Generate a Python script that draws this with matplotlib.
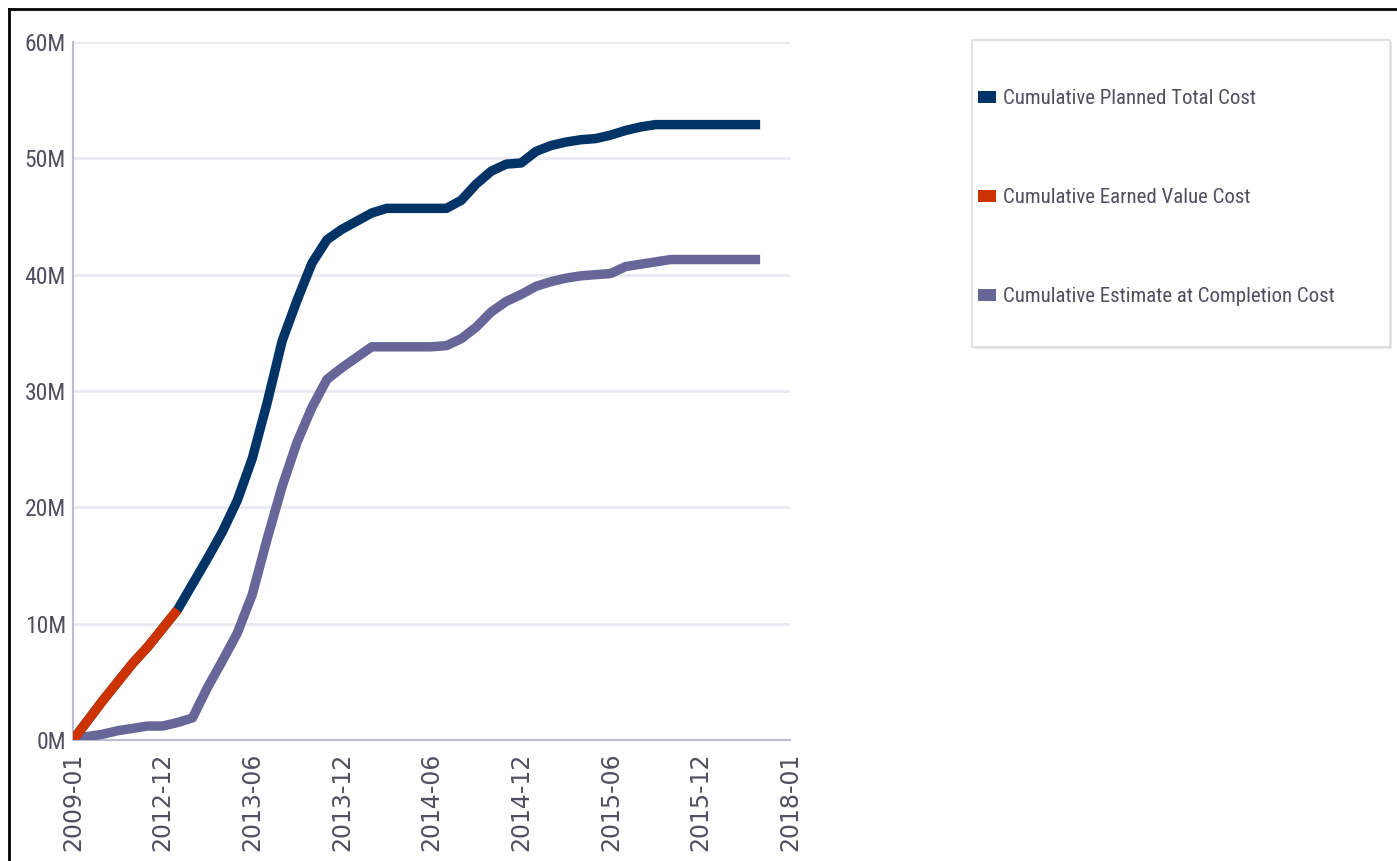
import matplotlib
matplotlib.use("Agg")
import matplotlib.pyplot as plt
from matplotlib import font_manager
from matplotlib.lines import Line2D
from matplotlib.patches import Patch, Rectangle

# month index along the category axis, values in millions
planned_total = [
    0.0, 1.7, 3.4, 5.0, 6.6, 8.0, 9.6, 11.2, 13.4, 15.6,
    17.9, 20.6, 24.2, 29.0, 34.3, 37.8, 41.0, 43.0, 43.9, 44.6,
    45.3, 45.7, 45.7, 45.7, 45.7, 45.7, 46.4, 47.8, 48.9, 49.5,
    49.6, 50.6, 51.1, 51.4, 51.6, 51.7, 52.0, 52.4, 52.7, 52.9,
    52.9, 52.9, 52.9, 52.9, 52.9, 52.9, 52.9,
]
earned_value = [0.0, 1.7, 3.4, 5.0, 6.6, 8.0, 9.6, 11.2]
estimate_at_completion = [
    0.2, 0.3, 0.5, 0.8, 1.0, 1.2, 1.2, 1.5, 1.9, 4.5,
    6.8, 9.2, 12.5, 17.3, 21.8, 25.6, 28.6, 31.0, 32.0, 32.9,
    33.8, 33.8, 33.8, 33.8, 33.8, 33.9, 34.5, 35.5, 36.8, 37.7,
    38.3, 39.0, 39.4, 39.7, 39.9, 40.0, 40.1, 40.7, 40.9, 41.1,
    41.3, 41.3, 41.3, 41.3, 41.3, 41.3, 41.3,
]

x_tick_pos = [0, 6, 12, 18, 24, 30, 36, 42, 48]
x_tick_labels = ["2009-01", "2012-12", "2013-06", "2013-12", "2014-06",
                 "2014-12", "2015-06", "2015-12", "2018-01"]
y_ticks = [0, 10, 20, 30, 40, 50, 60]
y_tick_labels = ["0M", "10M", "20M", "30M", "40M", "50M", "60M"]

series_names = ["Cumulative Planned Total Cost",
                "Cumulative Earned Value Cost",
                "Cumulative Estimate at Completion Cost"]
series_colors = ["#003366", "#cc3300", "#666699"]

LABEL_GRAY = "#4f4f5f"

# the original uses a condensed face; take the narrowest one available
available = {f.name for f in font_manager.fontManager.ttflist}
if "Roboto Condensed" in available:
    NARROW, NARROW_SIZE = ["Roboto Condensed", "DejaVu Sans"], 15
elif "Liberation Sans Narrow" in available:
    NARROW, NARROW_SIZE = ["Liberation Sans Narrow", "DejaVu Sans"], 15
else:
    NARROW, NARROW_SIZE = ["Liberation Sans", "DejaVu Sans"], 13


def main():
    fig = plt.figure(figsize=(13.97, 8.61), dpi=100)
    ax = fig.add_axes([73 / 1397, 1 - 740 / 861, (790 - 73) / 1397, (740 - 42) / 861])

    lw = 6.8
    ax.plot(range(len(planned_total)), planned_total, color=series_colors[0],
            lw=lw, solid_joinstyle="round", solid_capstyle="butt", zorder=3)
    ax.plot(range(len(estimate_at_completion)), estimate_at_completion,
            color=series_colors[2], lw=lw, solid_joinstyle="round",
            solid_capstyle="butt", zorder=3)
    ax.plot(range(len(earned_value)), earned_value, color=series_colors[1],
            lw=lw, solid_joinstyle="round", solid_capstyle="butt", zorder=4)

    ax.set_xlim(0, 48)
    ax.set_ylim(0, 60)
    ax.set_xticks(x_tick_pos)
    ax.set_xticklabels(x_tick_labels, rotation=90, fontsize=17,
                       family="DejaVu Sans", color=LABEL_GRAY, va="top")
    ax.set_yticks(y_ticks)
    ax.set_yticklabels(y_tick_labels, fontsize=17, family=NARROW,
                       color=LABEL_GRAY)
    ax.tick_params(axis="both", length=0)
    ax.tick_params(axis="x", pad=9)
    ax.tick_params(axis="y", pad=5)

    ax.grid(axis="y", color="#e9e9f1", lw=2, zorder=0)
    ax.set_axisbelow(True)
    for side in ("top", "right"):
        ax.spines[side].set_visible(False)
    for side in ("left", "bottom"):
        ax.spines[side].set_color("#bcbcd4")
        ax.spines[side].set_linewidth(1.5)

    # legend box
    fig.add_artist(Rectangle((974 / 1397, 1 - 349 / 861), 418 / 1397, 307 / 861,
                             transform=fig.transFigure, facecolor="#e8e8e8",
                             edgecolor="none", zorder=1))
    fig.add_artist(Rectangle((972 / 1397, 1 - 347 / 861), 418 / 1397, 307 / 861,
                             transform=fig.transFigure, facecolor="white",
                             edgecolor="#dcdcdc", lw=1.2, zorder=2))
    handles = [Patch(facecolor=c, edgecolor="none") for c in series_colors]
    leg = fig.legend(handles, series_names, loc="upper left",
                     bbox_to_anchor=(968 / 1397, 1 - 79 / 861),
                     frameon=False, borderpad=0, labelspacing=3.84,
                     handlelength=0.85, handleheight=0.55, handletextpad=0.35,
                     prop={"family": NARROW, "size": NARROW_SIZE})
    leg.set_zorder(3)
    for t in leg.get_texts():
        t.set_color(LABEL_GRAY)

    # outer frame (left and top edges only visible)
    fig.add_artist(Line2D([9 / 1397, 9 / 1397], [0, 1 - 9 / 861],
                          transform=fig.transFigure, color="black", lw=2))
    fig.add_artist(Line2D([9 / 1397, 1], [1 - 9 / 861, 1 - 9 / 861],
                          transform=fig.transFigure, color="black", lw=2))

    fig.savefig("out.png", dpi=100)


if __name__ == "__main__":
    main()
